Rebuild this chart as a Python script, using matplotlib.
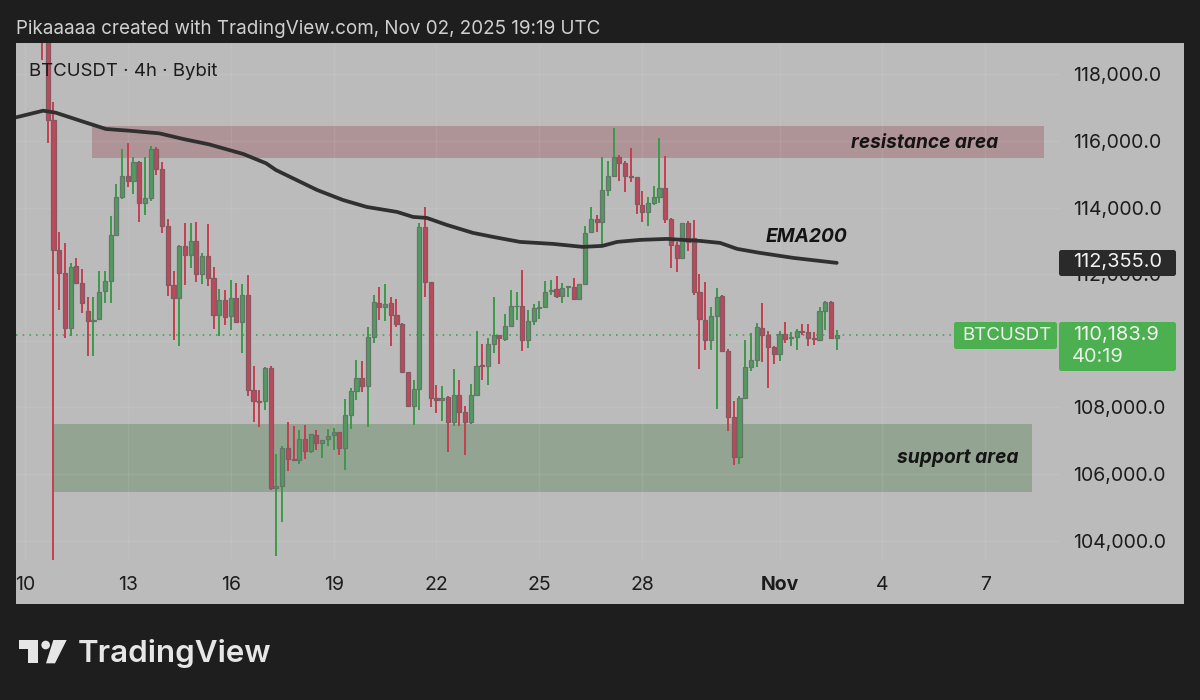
import matplotlib
matplotlib.use("Agg")
import matplotlib.pyplot as plt
from matplotlib.patches import FancyBboxPatch, Polygon, Circle, Rectangle
from matplotlib.transforms import IdentityTransform

plt.rcParams["font.family"] = ["Inter", "Liberation Sans", "DejaVu Sans"]

# 4h candles, index 0 is the one cut off at the top
opens = [120500, 119300, 116630, 112730, 112030, 110380, 112250, 111750, 110880, 110590,
         110650, 111510, 111810, 113190, 114310, 114950, 114810, 115370, 114150, 114280,
         115760, 115150, 113450, 111680, 111300, 112860, 112580, 113010, 112010, 112550,
         111880, 110770, 111230, 110730, 111300, 110550, 111380, 108530, 108200, 108180,
         109180, 105580, 105650, 106780, 106450, 106410, 107050, 106680, 107180, 106930,
         107050, 107160, 107250, 106780, 107760, 108480, 108880, 108650, 110100, 111150,
         111010, 111130, 110780, 110510, 109050, 108050, 108560, 113410, 111760, 108280,
         108210, 108310, 107560, 108380, 107850, 107560, 108360, 109280, 109250, 109900,
         110160, 110060, 110430, 111050, 111050, 110030, 110600, 110980, 111000, 111510,
         111550, 111360, 111630, 111610, 111250, 111710, 113260, 113670, 113570, 114530,
         114950, 115510, 115330, 114950, 114910, 114080, 113880, 114150, 114320, 114600,
         113670, 112870, 112480, 113550, 113080, 111480, 110630, 110010, 110730, 111350,
         109680, 107710, 106500, 108280, 109200, 109410, 110390, 110170, 109810, 109600,
         110200, 110080, 110110, 110280, 110260, 110080, 110030, 110880, 111180, 110090]
highs = [121000, 119500, 117180, 113280, 112930, 112330, 112480, 112170, 111330, 111330,
         112100, 112100, 113750, 114700, 115750, 115930, 115530, 115410, 115510, 115850,
         115830, 115380, 113650, 112110, 112880, 113530, 113550, 113580, 112650, 113510,
         112210, 111550, 111530, 111830, 111750, 111700, 111980, 109250, 108510, 109200,
         109230, 106600, 106830, 107560, 107430, 107310, 107480, 107200, 107310, 107030,
         107350, 107380, 107270, 108250, 108580, 109430, 109380, 110410, 111380, 111630,
         111700, 111310, 111270, 110530, 109070, 108810, 113550, 114010, 111780, 108670,
         108650, 108340, 109150, 108810, 108050, 108700, 110290, 109900, 110080, 111310,
         110170, 110810, 111530, 111480, 112130, 110930, 111110, 111200, 111810, 111830,
         111950, 111730, 111650, 111900, 111710, 113450, 114030, 113780, 115510, 115410,
         116380, 115580, 115390, 115780, 114920, 114500, 114310, 114650, 116080, 115560,
         113680, 112980, 113530, 113600, 113630, 112000, 111780, 111000, 111580, 111380,
         109760, 108200, 108330, 110030, 110230, 110530, 111130, 110280, 109850, 110280,
         110560, 110250, 110360, 110510, 110500, 110250, 111010, 111210, 111210, 110310]
lows = [118430, 115930, 103430, 110910, 110080, 110150, 111750, 110830, 109530, 109530,
        110610, 111130, 111150, 113190, 114250, 114630, 114410, 113580, 113780, 114210,
        114980, 113250, 111350, 110030, 109830, 111680, 112180, 111780, 111710, 111650,
        110350, 110150, 110480, 110330, 110550, 109630, 108330, 107550, 107410, 107910,
        105510, 103530, 104570, 106080, 106380, 106310, 106450, 106630, 106730, 106480,
        106850, 106730, 106560, 106110, 107360, 108230, 108450, 107410, 109930, 110610,
        110580, 109830, 110410, 109050, 108050, 107480, 107910, 111310, 108010, 107830,
        107580, 106660, 107450, 107430, 106580, 107510, 108360, 108830, 108680, 109630,
        109310, 109980, 110430, 110610, 109680, 109780, 110460, 110660, 111000, 111380,
        111300, 111150, 111330, 111250, 111250, 111710, 113260, 113280, 112850, 114350,
        114950, 114810, 114460, 114760, 113810, 113560, 113460, 114080, 114130, 113550,
        112180, 112080, 112480, 112710, 111380, 109150, 109730, 109710, 107950, 109680,
        107300, 106280, 106310, 108250, 109100, 109210, 109350, 108580, 109310, 109380,
        109930, 109850, 109710, 110180, 109830, 109880, 110030, 110330, 110090, 109730]
closes = [119300, 116630, 112730, 112030, 110380, 112230, 111750, 111150, 110600, 110630,
          111480, 111810, 113180, 114310, 114950, 114810, 115370, 114150, 114280, 115760,
          115150, 113460, 111680, 111300, 112860, 112580, 113010, 112010, 112550, 111880,
          110770, 111230, 110710, 111300, 110550, 111380, 108530, 108180, 108170, 109180,
          105580, 105650, 106780, 106450, 106410, 107050, 106680, 107200, 106930, 107030,
          107150, 107250, 106780, 107760, 108480, 108880, 108650, 110100, 111160, 111010,
          111120, 110780, 110510, 109050, 108050, 108560, 113410, 111760, 108280, 108210,
          108290, 107560, 108380, 107850, 107560, 108360, 109250, 109230, 109900, 110170,
          110070, 110430, 111050, 111060, 110030, 110600, 110980, 111000, 111480, 111530,
          111350, 111600, 111640, 111250, 111710, 113250, 113660, 113570, 114520, 114950,
          115510, 115330, 114950, 114910, 114100, 113880, 114130, 114310, 114600, 113670,
          112870, 112480, 113530, 112980, 111480, 110650, 110010, 110730, 111330, 109680,
          107710, 106500, 108280, 109200, 109410, 110410, 110170, 109810, 109600, 110200,
          110050, 110100, 110280, 110250, 110070, 110060, 110880, 111180, 110090, 110184]

# EMA200 read at a handful of places, x in candle numbers
ema_x = [-4.55, 0.2, 2.4, 7.2, 11.2, 15.2, 20.5, 24.7, 29.2, 35.2, 39.2, 40.9, 48.1, 52.6, 56.8,
         62.1, 64.9, 67.3, 70.8, 75.4, 78.9, 83.6, 89.4, 94.6, 98, 100.6, 104.6, 109.3, 115.1,
         118.6, 121.6, 125.6, 131.4, 139]
ema_y = [116710, 116910, 116850, 116580, 116360, 116310, 116230, 116060, 115900, 115610,
         115330, 115130, 114530, 114230, 114020, 113870, 113720, 113690, 113480, 113240,
         113120, 112970, 112910, 112820, 112850, 112970, 113030, 113060, 113000, 112940,
         112760, 112640, 112490, 112340]

price_ticks = [104000, 106000, 108000, 110000, 112000, 114000, 116000, 118000]
price_labels = ["104,000.0", "106,000.0", "108,000.0", "", "112,000.0", "114,000.0", "116,000.0", "118,000.0"]
day_ticks = [-3, 15, 33, 51, 69, 87, 105, 129, 147, 165]
day_labels = ["10", "13", "16", "19", "22", "25", "28", "Nov", "4", "7"]

resistance_zone = (115490, 116450, 8.75, 175.3)
support_zone = (105470, 107500, 1.9, 173.2)
last_price = 110183.9

BG = "#1e1e1e"
PANEL = "#bbbbbb"
RED = "#c63f50"
GREEN = "#3c9a49"
RED_BODY = "#bb4a5c"
GREEN_BODY = "#519a60"
TAG_GREEN = "#4caf50"

fig = plt.figure(figsize=(12, 7), dpi=100, facecolor=BG)
ax = fig.add_axes([16 / 1200, 1 - 604 / 700, 1168 / 1200, 561 / 700], facecolor=PANEL)
ax.set_xlim(-4.55, 199.75)
ax.set_ylim(102096, 118943)
for s in ax.spines.values():
    s.set_visible(False)

# zones
ax.add_patch(Rectangle((resistance_zone[2], resistance_zone[0]), resistance_zone[3] - resistance_zone[2],
                       resistance_zone[1] - resistance_zone[0], color="#ae9497", lw=0, zorder=1))
ax.add_patch(Rectangle((support_zone[2], support_zone[0]), support_zone[3] - support_zone[2],
                       support_zone[1] - support_zone[0], color="#93a592", lw=0, zorder=1))

# grid, stops before the two axis areas
grid_right = (1059 - 42) / 5.717
grid_bottom = 116000 - (560 - 141) * 30.03
ax.hlines(price_ticks, -4.55, grid_right, color="#ffffff", alpha=0.07, lw=1, zorder=1.5)
ax.vlines(day_ticks, grid_bottom, 118943, color="#ffffff", alpha=0.07, lw=1, zorder=1.5)

# last price line
ax.hlines(last_price, -4.55, (954 - 42) / 5.717, color="#4a9f58", lw=1.2, linestyles=(0, (1, 3)), zorder=1.8)

# candles
xs = list(range(len(opens)))
for i in xs:
    up = closes[i] >= opens[i]
    ax.vlines(i, lows[i], highs[i], color=GREEN if up else RED, lw=1.4, zorder=2)
    ax.bar(i, abs(closes[i] - opens[i]), bottom=min(opens[i], closes[i]), width=0.72,
           color=GREEN_BODY if up else RED_BODY, edgecolor="#66756a" if up else "#85595f",
           linewidth=0.9, zorder=2.2)

ax.plot(ema_x, ema_y, color="#303030", lw=2.7, solid_capstyle="round", zorder=3)

# axis labels sit inside the panel
ax.yaxis.tick_right()
ax.set_yticks(price_ticks)
ax.set_yticklabels(price_labels)
ax.tick_params(axis="y", length=0, pad=-80, labelsize=14, labelcolor="#1c1c1c")
ax.set_xticks(day_ticks)
ax.set_xticklabels(day_labels)
ax.tick_params(axis="x", length=0, pad=-20, labelsize=14, labelcolor="#1c1c1c")
for t in ax.get_xticklabels():
    if t.get_text() == "Nov":
        t.set_fontweight("bold")

ax.text(13 / 1168, 1 - (71 - 43) / 561, "BTCUSDT · 4h · Bybit", transform=ax.transAxes,
        fontsize=13.4, color="#1c1c1c", va="center", ha="left")


def label(x, y, s, **kw):
    fig.text(x / 1200, 1 - y / 700, s, **kw)


label(851, 143, "resistance area", fontsize=13.8, fontweight="bold", fontstyle="italic", color="#141414", va="center")
label(766, 237, "EMA200", fontsize=13.8, fontweight="bold", fontstyle="italic", color="#141414", va="center")
label(897, 458, "support area", fontsize=13.8, fontweight="bold", fontstyle="italic", color="#141414", va="center")
label(16, 29, "Pikaaaaa created with TradingView.com, Nov 02, 2025 19:19 UTC", fontsize=13.55, color="#cfcfcf", va="center")


def tag(x0, y0, x1, y1, color):
    p = FancyBboxPatch((x0 + 2, 700 - y1 + 2), x1 - x0 - 4, y1 - y0 - 4, boxstyle="round,pad=2,rounding_size=2.5",
                       fc=color, ec="none", transform=IdentityTransform(), zorder=5)
    fig.add_artist(p)


tag(1059, 250, 1176, 276, "#2a2a2a")
tag(954, 322, 1057, 349, TAG_GREEN)
tag(1059, 322, 1176, 371, TAG_GREEN)
label(1073, 262, "112,355.0", fontsize=14.4, color="#f2f2f2", va="center", zorder=6)
label(962, 336, "BTCUSDT", fontsize=13.5, color="#f2f2f2", va="center", zorder=6)
label(1073, 335, "110,183.9", fontsize=14.4, color="#f2f2f2", va="center", zorder=6)
label(1072, 357, "40:19", fontsize=14.4, color="#e6f2e6", va="center", zorder=6)

# logo
logo = "#e6e6e6"


def logo_poly(pts):
    fig.add_artist(Polygon([(10 + x / 3, 700 - (625 + y / 3)) for x, y in pts], closed=True, fc=logo, ec="none",
                           transform=IdentityTransform()))


logo_poly([(28, 45), (85, 45), (85, 115), (55, 115), (55, 72), (28, 72)])
logo_poly([(130, 45), (170, 45), (135, 115), (108, 115)])
fig.add_artist(Circle((10 + 107 / 3, 700 - (625 + 60 / 3)), 13 / 3, fc=logo, ec="none", transform=IdentityTransform()))
label(78, 653, "TradingView", fontsize=22.6, fontweight="semibold", color=logo, va="center")

fig.savefig("out.png", dpi=100, facecolor=BG)
